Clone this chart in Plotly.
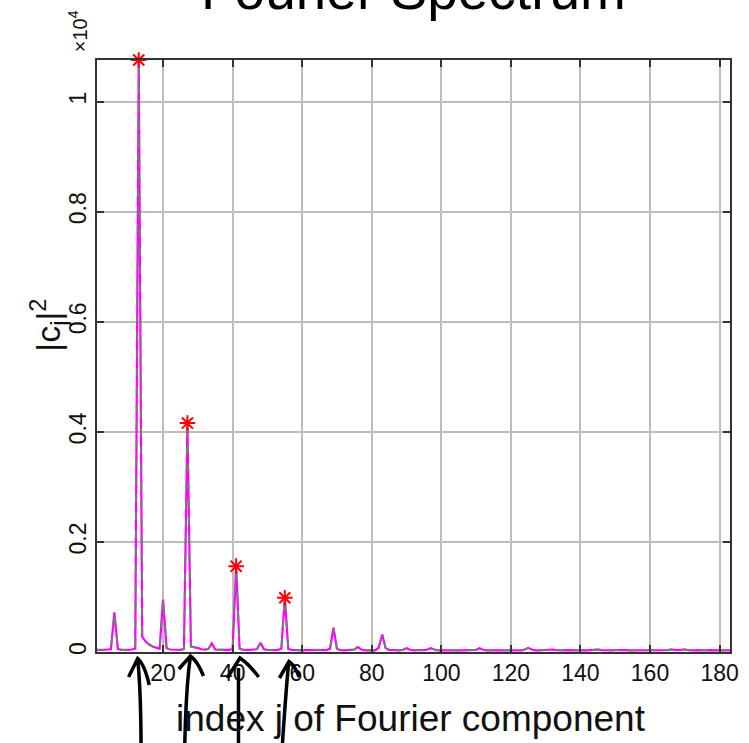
import plotly.graph_objects as go

# ---------------- data ----------------
j_index = list(range(1, 184))
power = [
    40, 35, 40, 45, 50, 720, 55, 40, 35, 40,          # 1-10
    45, 60, 10757, 275, 190, 135, 100, 75, 60, 953,   # 11-20
    70, 45, 40, 35, 40, 55, 4160, 100, 90, 70,        # 21-30
    50, 45, 55, 155, 45, 40, 35, 40, 40, 55,          # 31-40
    1560, 60, 40, 35, 40, 45, 50, 170, 50, 40,        # 41-50
    35, 35, 40, 60, 985, 55, 40, 35, 35, 30,          # 51-60
    35, 30, 35, 40, 35, 30, 35, 60, 440, 55,          # 61-70
    35, 30, 35, 30, 45, 90, 45, 30, 35, 35,           # 71-80
    30, 80, 318, 70, 40, 35, 35, 30, 40, 70,          # 81-90
    40, 30, 35, 30, 35, 45, 70, 45, 30, 30,           # 91-100
    35, 30, 30, 35, 30, 30, 35, 30, 35, 40,           # 101-110
    70, 40, 30, 30, 35, 30, 30, 35, 30, 30,           # 111-120
    30, 35, 30, 45, 75, 45, 30, 30, 35, 30,           # 121-130
    35, 45, 35, 30, 30, 35, 30, 30, 30, 35,           # 131-140
    30, 30, 35, 40, 45, 35, 30, 30, 30, 35,           # 141-150
    35, 45, 35, 30, 30, 35, 30, 30, 30, 35,           # 151-160
    30, 30, 35, 30, 35, 45, 35, 35, 40, 45,           # 161-170
    35, 30, 30, 35, 30, 30, 35, 30, 30, 35,           # 171-180
    30, 30, 30,                                       # 181-183
]
peak_j = [13, 27, 41, 55]
peak_vals = [power[j - 1] for j in peak_j]

x_range = [1, 183]
x_tickvals = [20, 40, 60, 80, 100, 120, 140, 160, 180]
x_ticktext = ["20", "40", "60", "80", "100", "120", "140", "160", "180"]
y_tickvals = [0, 2000, 4000, 6000, 8000, 10000]
y_ticktext = ["0", "0.2", "0.4", "0.6", "0.8", "1"]

# ---------------- layout geometry ----------------
W, H = 749, 743
ML, MR, MT, MB = 97, 10, 60, 91
PW, PH = W - ML - MR, H - MT - MB


def px2paper(px, py):
    return (px - ML) / PW, (H - MB - py) / PH


def path_from(points):
    s = ""
    for cmd, pts in points:
        s += cmd
        s += " ".join("%.5f,%.5f" % px2paper(x, y) for x, y in pts) + " "
    return s.strip()


FONT = "Liberation Sans, Arial, Helvetica, sans-serif"

fig = go.Figure()
fig.add_trace(go.Scatter(x=j_index, y=power, mode="lines",
                         line=dict(color="#ff00ff", width=2.2),
                         hoverinfo="skip", showlegend=False))
fig.add_trace(go.Scatter(x=j_index, y=power, mode="lines",
                         line=dict(color="#7a7a7a", width=1.8, dash="8px,10px"),
                         hoverinfo="skip", showlegend=False))
fig.add_trace(go.Scatter(x=peak_j, y=peak_vals, mode="markers",
                         marker=dict(symbol="asterisk-open", size=13, color="#ff0000",
                                     line=dict(color="#ff0000", width=2)),
                         cliponaxis=False, hoverinfo="skip", showlegend=False))

axis_common = dict(showline=True, linecolor="#333333", linewidth=1.5, mirror="allticks",
                   ticks="inside", ticklen=7, tickwidth=1.5, tickcolor="#333333",
                   showgrid=True, gridcolor="#bdbdbd", gridwidth=1.5, zeroline=False,
                   tickfont=dict(family=FONT, size=23, color="#111111"))

fig.update_xaxes(range=x_range, tickmode="array", tickvals=x_tickvals,
                 ticktext=x_ticktext, **axis_common)
fig.update_yaxes(range=[0, power[12]], tickmode="array", tickvals=y_tickvals,
                 ticktext=y_ticktext, tickangle=-90, **axis_common)

annotations = [
    dict(text="index j of Fourier component", x=px2paper(415, 0)[0], xref="paper",
         y=px2paper(0, 718)[1], yref="paper", showarrow=False, xanchor="center",
         yanchor="middle", font=dict(family=FONT, size=37, color="#111111")),
    dict(text="|c<sub>j</sub>|<sup>2</sup>", x=px2paper(47, 0)[0], xref="paper",
         y=px2paper(0, 325)[1], yref="paper", showarrow=False, textangle=-90,
         xanchor="center", yanchor="middle",
         font=dict(family=FONT, size=34, color="#111111")),
    dict(text="×10<sup>4</sup>", x=px2paper(77, 0)[0], xref="paper",
         y=px2paper(0, 31)[1], yref="paper", showarrow=False, textangle=-90,
         xanchor="center", yanchor="middle",
         font=dict(family=FONT, size=20, color="#111111")),
    dict(text="Fourier Spectrum", x=0.5, xref="paper",
         y=px2paper(0, 23)[1], yref="paper", showarrow=False,
         xanchor="center", yanchor="bottom",
         font=dict(family=FONT, size=55, color="#000000")),
]

arrows = [
    [("M", [(141.7, 745)]), ("Q", [(141.5, 700), (139.3, 670)]), ("L", [(138.3, 659)]),
     ("M", [(129, 677)]), ("L", [(138.3, 658.5)]), ("Q", [(145, 664), (150, 685)])],
    [("M", [(186, 745)]), ("Q", [(187, 700), (190, 670)]), ("L", [(191.7, 657)]),
     ("M", [(180, 669)]), ("L", [(191.7, 656)]), ("Q", [(199, 661), (205, 676)])],
    [("M", [(240.5, 745)]), ("L", [(240.5, 668)]),
     ("M", [(229, 678)]), ("L", [(242, 658)]), ("Q", [(251, 664), (261, 677)])],
    [("M", [(285, 745)]), ("Q", [(288, 700), (290.5, 672)]), ("L", [(291.5, 662)]),
     ("M", [(282, 678)]), ("L", [(291.7, 661.5)]), ("Q", [(298, 666), (302, 677)])],
]
shapes = [dict(type="path", xref="paper", yref="paper", path=path_from(a),
               line=dict(color="#000000", width=3.5), layer="above") for a in arrows]

fig.update_layout(width=W, height=H, margin=dict(l=ML, r=MR, t=MT, b=MB, pad=0),
                  paper_bgcolor="white", plot_bgcolor="white",
                  annotations=annotations, shapes=shapes, showlegend=False,
                  font=dict(family=FONT))

fig.write_html("out.html")
